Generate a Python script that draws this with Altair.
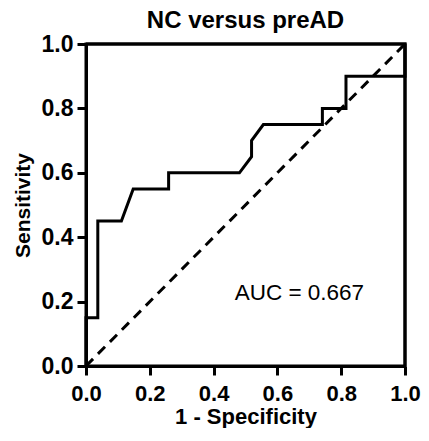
import altair as alt
import pandas as pd

# ROC curve (1 - specificity, sensitivity)
fpr = [0.0, 0.0, 0.037, 0.037, 0.111, 0.148, 0.259, 0.259, 0.481, 0.519, 0.519, 0.556, 0.741, 0.741, 0.815, 0.815, 1.0, 1.0]
tpr = [0.0, 0.15, 0.15, 0.45, 0.45, 0.55, 0.55, 0.60, 0.60, 0.65, 0.70, 0.75, 0.75, 0.80, 0.80, 0.90, 0.90, 1.0]

# reference (chance) diagonal
diag_x = [0.0, 1.0]
diag_y = [0.0, 1.0]

# box edges closing the frame: top (y=1) then right (x=1)
box_x = [0.0, 1.0, 1.0]
box_y = [1.0, 1.0, 0.0]

tick_values = [0.0, 0.2, 0.4, 0.6, 0.8, 1.0]
auc_label = ["AUC = 0.667"]
auc_x = [0.466]
auc_y = [0.227]

FONT = "Liberation Sans"

roc_df = pd.DataFrame({"fpr": fpr, "tpr": tpr, "idx": list(range(len(fpr)))})
diag_df = pd.DataFrame({"fpr": diag_x, "tpr": diag_y, "idx": [0, 1]})
box_df = pd.DataFrame({"bx": box_x, "by": box_y, "bidx": [0, 1, 2]})
auc_df = pd.DataFrame({"fpr": auc_x, "tpr": auc_y, "label": auc_label})

xscale = alt.Scale(domain=[0, 1], nice=False, zero=False)
yscale = alt.Scale(domain=[0, 1], nice=False, zero=False)

xaxis = alt.Axis(values=tick_values, format=".1f", title="1 - Specificity", grid=False,
                 domainColor="black", domainWidth=3, tickColor="black", tickWidth=3, tickSize=9,
                 labelFont=FONT, labelFontSize=22, labelFontWeight="bold", labelColor="black",
                 labelPadding=8, titleFont=FONT, titleFontSize=22, titleFontWeight="bold",
                 titleColor="black", titlePadding=2, labelFlush=False)
yaxis = alt.Axis(values=tick_values, format=".1f", title="Sensitivity", grid=False,
                 domainColor="black", domainWidth=3, tickColor="black", tickWidth=3, tickSize=9,
                 labelFont=FONT, labelFontSize=23, labelFontWeight="bold", labelColor="black",
                 labelPadding=4, titleFont=FONT, titleFontSize=21, titleFontWeight="bold",
                 titleColor="black", titlePadding=8, labelFlush=False)

roc = alt.Chart(roc_df).mark_line(color="black", strokeWidth=3, strokeJoin="miter").encode(
    x=alt.X("fpr:Q", scale=xscale, axis=xaxis),
    y=alt.Y("tpr:Q", scale=yscale, axis=yaxis),
    order="idx:Q",
)

diag = alt.Chart(diag_df).mark_line(color="black", strokeWidth=3, strokeDash=[10, 7]).encode(
    x=alt.X("fpr:Q", scale=xscale),
    y=alt.Y("tpr:Q", scale=yscale),
    order="idx:Q",
)

auc = alt.Chart(auc_df).mark_text(align="left", baseline="middle", font=FONT, fontSize=22.5,
                                   color="black").encode(
    x=alt.X("fpr:Q", scale=xscale),
    y=alt.Y("tpr:Q", scale=yscale),
    text="label:N",
)

box = alt.Chart(box_df).mark_line(color="black", strokeWidth=3, strokeJoin="miter",
                                  opacity=1, clip=False).encode(
    x=alt.X("bx:Q", scale=xscale),
    y=alt.Y("by:Q", scale=yscale),
    order="bidx:Q",
)

chart = alt.layer(diag, roc, auc, box).properties(
    width=319,
    height=322,
    title=alt.TitleParams("NC versus preAD", font=FONT, fontSize=24, fontWeight="bold",
                          color="black", anchor="middle", offset=0),
    autosize=alt.AutoSizeParams(type="none"),
    padding={"left": 78, "top": 36, "right": 16, "bottom": 62},
    background="white",
).configure_view(stroke="black", strokeWidth=3)

chart.save("out.html", embed_options={"renderer": "svg", "actions": False})
